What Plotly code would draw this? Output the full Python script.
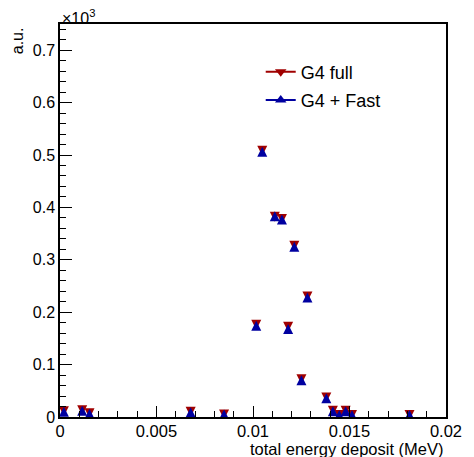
import plotly.graph_objects as go

# bin centres (MeV) and counts (a.u.)
energy = [0.0002, 0.00115, 0.00153, 0.00677, 0.0085, 0.01017, 0.01048, 0.01113,
          0.0115, 0.01182, 0.01214, 0.01251, 0.01282, 0.0138, 0.01414, 0.01447,
          0.0148, 0.01513, 0.01811]
g4_full = [11, 13, 7, 10, 5, 176, 508, 382, 378, 172, 327, 72, 230, 37, 12, 4, 12, 4, 4]
g4_fast = [10, 12, 6, 9, 5, 174, 506, 383, 377, 168, 325, 70, 228, 36, 11, 4, 11, 4, 4]

x_ticks = [0, 0.005, 0.01, 0.015, 0.02]
x_labels = ["0", "0.005", "0.01", "0.015", "0.02"]

red = "#a00000"
blue = "#0000a0"
font = "Liberation Sans, Arial, sans-serif"

fig = go.Figure()

# ROOT-like markers: both triangles share the same bounding box
fig.add_trace(go.Scatter(
    x=energy, y=[v / 1000 for v in g4_full], mode="markers", showlegend=False,
    marker=dict(symbol="arrow-down", size=10, standoff=5, angle=0, color=red, line=dict(width=0)),
))
fig.add_trace(go.Scatter(
    x=energy, y=[v / 1000 for v in g4_fast], mode="markers", showlegend=False,
    marker=dict(symbol="arrow-down", size=10, standoff=5, angle=180, color=blue, line=dict(width=0)),
))

# legend entries
fig.add_trace(go.Scatter(
    x=[None], y=[None], mode="lines+markers", name="G4 full", legendgroup="a",
    line=dict(color=red, width=2), marker=dict(symbol="triangle-down", size=10, color=red),
))
fig.add_trace(go.Scatter(
    x=[None], y=[None], mode="lines+markers", name="G4 + Fast", legendgroup="b",
    line=dict(color=blue, width=2), marker=dict(symbol="triangle-up", size=10, color=blue),
))

# the page body adds an 8px margin, so the figure is 8px smaller each way
fig.update_layout(
    width=466, height=449,
    margin=dict(l=52, r=19, t=16, b=40),
    paper_bgcolor="white", plot_bgcolor="white",
    font=dict(family=font, color="black", size=16),
    legend=dict(x=0.52, y=0.925, xanchor="left", yanchor="top", bgcolor="rgba(0,0,0,0)",
                font=dict(size=18), tracegroupgap=2, traceorder="grouped"),
    annotations=[
        dict(text="×10<sup>3</sup>", xref="paper", yref="paper", x=0, y=1, yshift=-5,
             xanchor="left", yanchor="bottom", showarrow=False, font=dict(size=16)),
        dict(text="a.u.", xref="paper", yref="paper", x=-0.11, y=0.997, textangle=-90,
             xanchor="center", yanchor="top", showarrow=False, font=dict(size=16)),
        dict(text="total energy deposit (MeV)", xref="paper", yref="paper", x=1.0, y=-0.082,
             xanchor="right", yanchor="middle", showarrow=False, font=dict(size=16.5)),
    ],
)

fig.update_xaxes(
    range=[0, 0.02], tickvals=x_ticks, ticktext=x_labels,
    ticks="inside", ticklen=11, tickwidth=1, tickcolor="black",
    minor=dict(dtick=0.001, ticks="inside", ticklen=6, tickcolor="black"),
    showline=True, linecolor="black", linewidth=1.5, mirror=True,
    showgrid=False, zeroline=False, tickfont=dict(size=16.5), ticklabelstandoff=-2,
)
fig.update_yaxes(
    range=[0, 0.75], dtick=0.1, tick0=0,
    ticks="inside", ticklen=12, tickwidth=1, tickcolor="black",
    minor=dict(dtick=0.02, ticks="inside", ticklen=6, tickcolor="black"),
    showline=True, linecolor="black", linewidth=1.5, mirror=True,
    showgrid=False, zeroline=False, tickfont=dict(size=16),
)

fig.write_html("out.html")
